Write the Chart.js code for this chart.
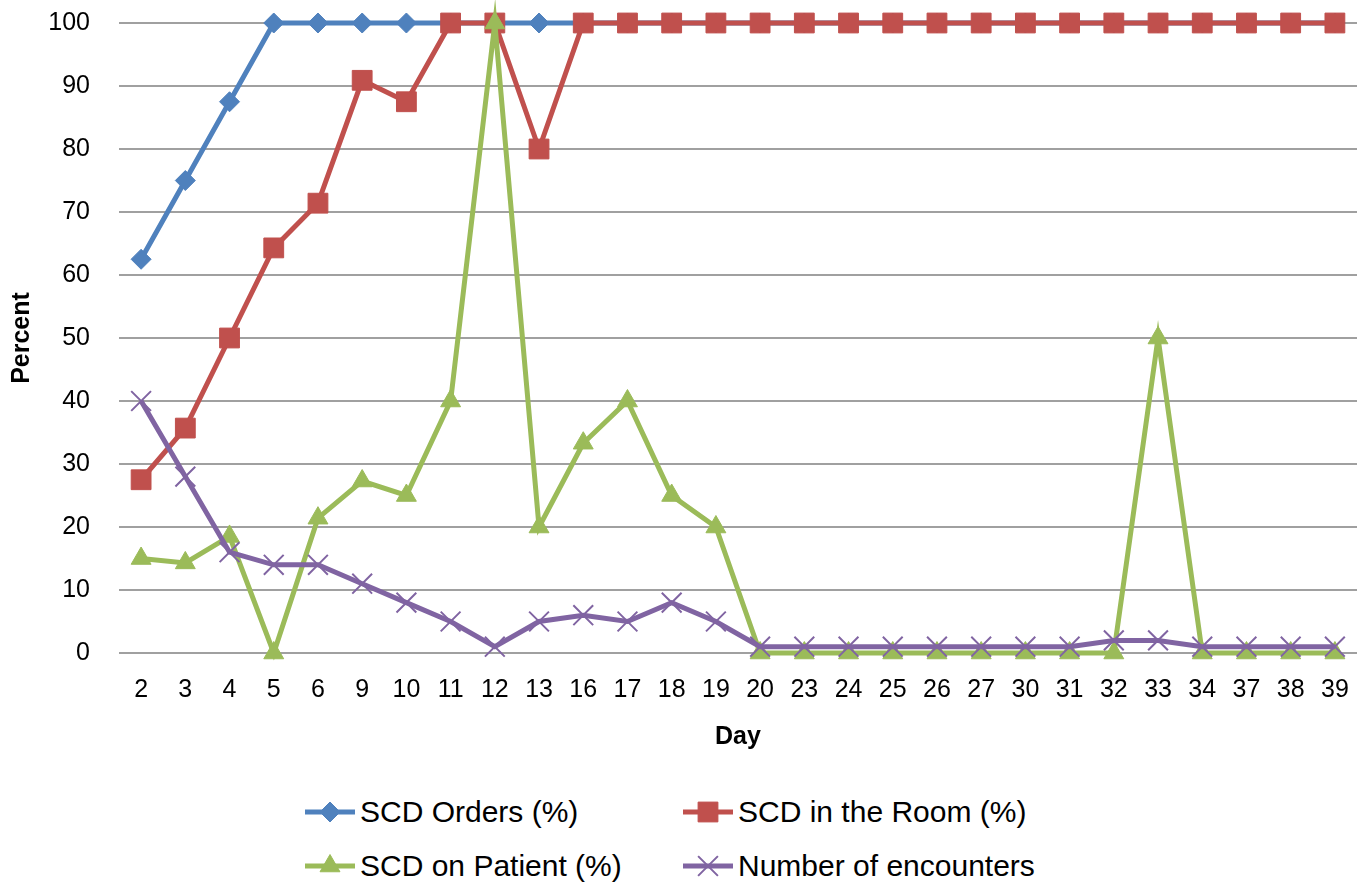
<!DOCTYPE html>
<html lang="en">
<head>
  <meta charset="UTF-8" />
  <title>SCD compliance by day</title>
  <script src="https://cdn.jsdelivr.net/npm/chart.js"></script>
  <style>
    body { margin: 0; background: #fff; font-family: "Liberation Sans", Arial, sans-serif; }
    #wrap { position: relative; width: 1364px; height: 884px; }
    #chartBox { position: absolute; left: 0; top: 0; width: 1364px; height: 770px; }
    .legend-item { position: absolute; display: flex; align-items: center; font-size: 30px; color: #000; white-space: nowrap; }
    .legend-item canvas { display: block; margin-right: 3px; }
  </style>
</head>
<body>
  <div id="wrap">
    <div id="chartBox"><canvas id="scdChart"></canvas></div>
    <div id="legend"></div>
  </div>

  <script>
    const days = ["2", "3", "4", "5", "6", "9", "10", "11", "12", "13", "16", "17", "18", "19", "20",
                  "23", "24", "25", "26", "27", "30", "31", "32", "33", "34", "37", "38", "39"];

    const scdOrders = [62.5, 75, 87.5, 100, 100, 100, 100, 100, 100, 100, 100, 100, 100, 100, 100,
                       100, 100, 100, 100, 100, 100, 100, 100, 100, 100, 100, 100, 100];

    const scdRoom = [27.5, 35.7, 50, 64.3, 71.4, 90.9, 87.5, 100, 100, 80, 100, 100, 100, 100, 100,
                     100, 100, 100, 100, 100, 100, 100, 100, 100, 100, 100, 100, 100];

    const scdPatient = [15, 14.3, 18.5, 0, 21.4, 27.3, 25, 40, 100, 20, 33.3, 40, 25, 20, 0,
                        0, 0, 0, 0, 0, 0, 0, 0, 50, 0, 0, 0, 0];

    const encounters = [40, 28, 16, 14, 14, 11, 8, 5, 1, 5, 6, 5, 8, 5, 1,
                        1, 1, 1, 1, 1, 1, 1, 2, 2, 1, 1, 1, 1];

    const yTicks = [0, 10, 20, 30, 40, 50, 60, 70, 80, 90, 100];

    const series = [
      { label: "SCD Orders (%)", data: scdOrders, color: "#4F81BD", style: "rectRot", radius: 10, order: 4 },
      { label: "SCD in the Room (%)", data: scdRoom, color: "#C0504D", style: "rect", radius: 14, order: 3 },
      { label: "SCD on Patient (%)", data: scdPatient, color: "#9BBB59", style: "triangle", radius: 11.5, order: 2 },
      { label: "Number of encounters", data: encounters, color: "#8064A2", style: "crossRot", radius: 14, order: 1 }
    ];

    const FONT = "'Liberation Sans', Arial, sans-serif";

    const chart = new Chart(document.getElementById("scdChart"), {
      type: "line",
      data: {
        labels: days,
        datasets: series.map(s => ({
          label: s.label,
          data: s.data,
          order: s.order,
          borderColor: s.color,
          backgroundColor: s.color,
          borderWidth: 5,
          pointStyle: s.style,
          pointRadius: s.radius,
          pointHoverRadius: s.radius,
          pointBackgroundColor: s.color,
          pointBorderColor: s.color,
          pointBorderWidth: s.style === "crossRot" ? 2 : 1,
          tension: 0,
          fill: false,
          clip: false
        }))
      },
      options: {
        responsive: true,
        maintainAspectRatio: false,
        animation: false,
        layout: { autoPadding: false, padding: { top: 23, right: 7, left: 0, bottom: 0 } },
        plugins: {
          legend: { display: false },
          tooltip: { enabled: false }
        },
        scales: {
          x: {
            offset: true,
            grid: { display: false, drawTicks: false },
            border: { display: false },
            ticks: { color: "#000", font: { family: FONT, size: 25 }, padding: 22, maxRotation: 0, autoSkip: false },
            title: { display: true, text: "Day", color: "#000", font: { family: FONT, size: 25, weight: "bold", lineHeight: 1.2 }, padding: { top: 0, bottom: 18 } },
            afterFit: s => { s.height = 117; s.paddingLeft = 0; s.paddingRight = 0; }
          },
          y: {
            min: 0,
            max: 100,
            afterBuildTicks: s => { s.ticks = yTicks.map(v => ({ value: v })); },
            grid: { color: "#a0a0a0", lineWidth: 2, drawTicks: false },
            border: { display: false },
            ticks: { color: "#000", font: { family: FONT, size: 25 }, padding: 29 },
            title: { display: true, text: "Percent", color: "#000", font: { family: FONT, size: 25, weight: "bold", lineHeight: 1.2 }, padding: { top: 7, bottom: 0 } },
            afterFit: s => { s.width = 119; s.paddingTop = 0; s.paddingBottom = 0; }
          }
        }
      }
    });

    // legend: line with marker, two columns
    const legendPos = [
      { left: 303, top: 812 }, { left: 681, top: 812 },
      { left: 303, top: 866 }, { left: 681, top: 866 }
    ];
    const legendEl = document.getElementById("legend");
    series.forEach((s, i) => {
      const item = document.createElement("div");
      item.className = "legend-item";
      item.style.left = legendPos[i].left + "px";
      item.style.top = (legendPos[i].top - 20) + "px";
      item.style.height = "40px";
      const c = document.createElement("canvas");
      c.width = 54; c.height = 40;
      const ctx = c.getContext("2d");
      ctx.strokeStyle = s.color;
      ctx.lineWidth = 5;
      ctx.beginPath(); ctx.moveTo(2, 20); ctx.lineTo(52, 20); ctx.stroke();
      ctx.fillStyle = s.color;
      if (Chart.helpers && Chart.helpers.drawPoint) {
        ctx.lineWidth = s.style === "crossRot" ? 2 : 1;
        Chart.helpers.drawPoint(ctx, { pointStyle: s.style, radius: s.radius, rotation: 0, borderWidth: ctx.lineWidth }, 27, 20);
      }
      item.appendChild(c);
      const t = document.createElement("span");
      t.textContent = s.label;
      item.appendChild(t);
      legendEl.appendChild(item);
    });
  </script>
</body>
</html>
